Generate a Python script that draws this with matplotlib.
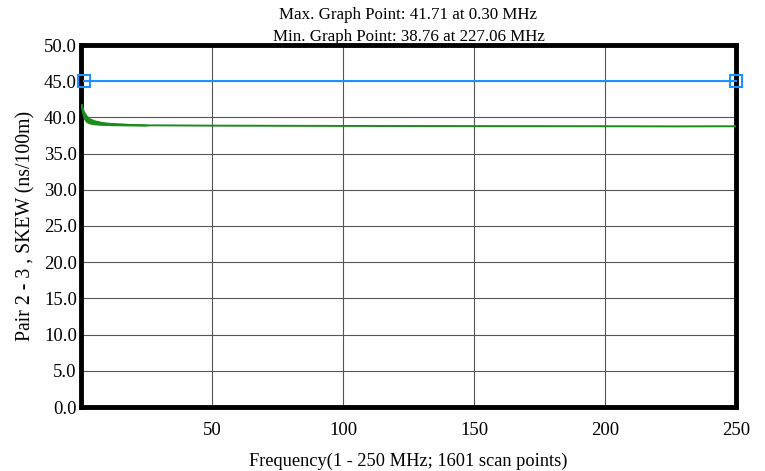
import matplotlib
matplotlib.use("Agg")
import matplotlib.pyplot as plt

plt.rcParams['font.family'] = ['Liberation Serif', 'DejaVu Serif']

# skew curve
freq = [0.3, 0.6, 1.0, 1.5, 2.0, 2.5, 3.0, 4.0, 5.0, 6.0, 8.0, 10.0, 15.0, 20.0,
        25.0, 30.0, 40.0, 50.0, 75.0, 100.0, 125.0, 150.0, 175.0, 200.0, 227.06, 250.0]
skew = [41.71, 40.9, 40.4, 40.0, 39.8, 39.6, 39.5, 39.35, 39.25, 39.2, 39.1, 39.05,
        39.0, 38.95, 38.9, 38.9, 38.88, 38.86, 38.84, 38.82, 38.81, 38.8, 38.79, 38.78,
        38.76, 38.78]

# noisy band near the start of the sweep
fuzz_freq = [0.3, 1.0, 2.0, 3.0, 5.0, 8.0, 12.0, 18.0, 25.0]
fuzz_hi = [41.71, 40.9, 40.3, 39.9, 39.6, 39.35, 39.2, 39.08, 38.98]
fuzz_lo = [41.2, 39.9, 39.4, 39.2, 39.05, 38.98, 38.93, 38.9, 38.88]

limit_freq = [1.0, 250.0]
limit_val = [45.0, 45.0]

xticks = [50, 100, 150, 200, 250]
yticks = [0, 5, 10, 15, 20, 25, 30, 35, 40, 45, 50]

fig = plt.figure(figsize=(7.65, 4.71), dpi=100)
ax = fig.add_axes([81/765, 1 - 407/471, (736-81)/765, (407-45)/471])

ax.plot(limit_freq, limit_val, color='#1e90ff', lw=1.5, marker='s', ms=9,
        mfc='none', mec='#1e90ff', mew=1.5, zorder=4, clip_on=False)
ax.fill_between(fuzz_freq, fuzz_lo, fuzz_hi, color='#1a8c1a', lw=0.8, zorder=3)
ax.plot(freq, skew, color='#1a8c1a', lw=1.4, zorder=3)

ax.set_xlim(0, 250)
ax.set_ylim(0, 50)
ax.set_xticks(xticks)
ax.set_yticks(yticks)
ax.set_yticklabels(['%.1f' % v for v in yticks])
ax.tick_params(length=0, labelsize=13.5, pad=3)
ax.tick_params(axis='x', pad=11)
ax.grid(True, color='#555555', lw=0.8)
ax.set_axisbelow(True)
for s in ax.spines.values():
    s.set_linewidth(3.5)

ax.set_xlabel('Frequency(1 - 250 MHz; 1601 scan points)', fontsize=13.2, labelpad=10)
ax.set_ylabel('Pair 2 - 3 , SKEW (ns/100m)', fontsize=14.2, labelpad=6)
ax.set_title('Max. Graph Point: 41.71 at 0.30 MHz\nMin. Graph Point: 38.76 at 227.06 MHz',
             fontsize=12.2, linespacing=1.45, pad=3)

fig.savefig('out.png', dpi=100)
